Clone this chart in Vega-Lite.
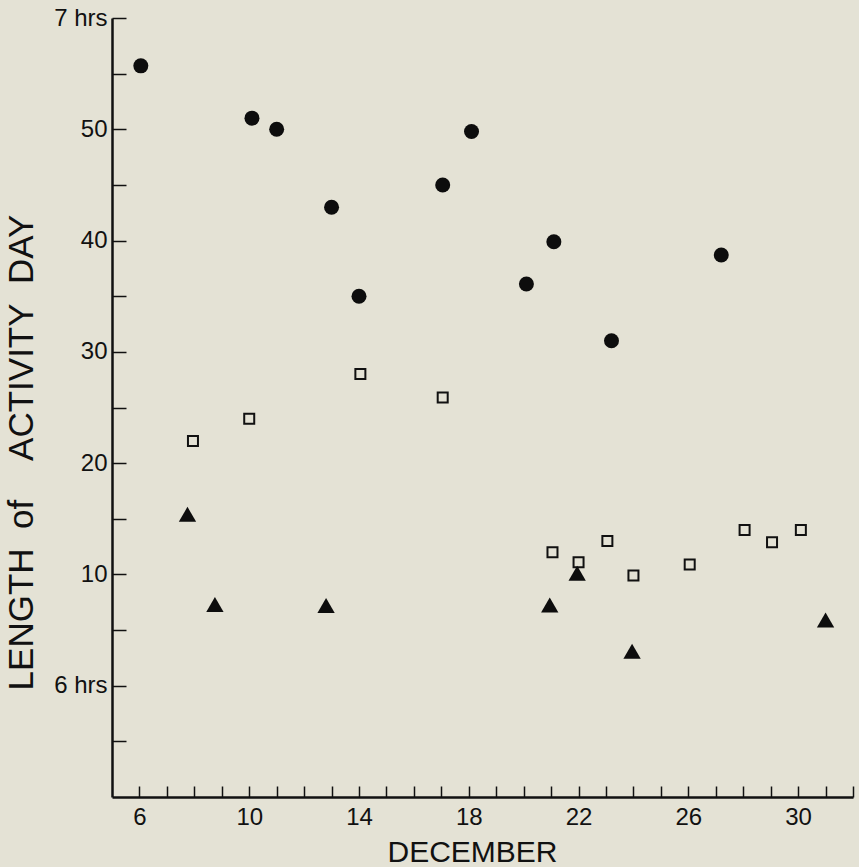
{
  "$schema": "https://vega.github.io/schema/vega-lite/v6.json",
  "width": 741,
  "height": 779,
  "autosize": {"type": "none"},
  "padding": {"left": 112, "top": 18, "right": 6, "bottom": 70},
  "background": "#e4e2d5",
  "config": {
    "view": {"stroke": null},
    "font": "Liberation Sans",
    "axis": {
      "domainColor": "#111111",
      "domainWidth": 2.5,
      "tickColor": "#111111",
      "tickWidth": 1.5,
      "labelColor": "#111111",
      "titleColor": "#111111",
      "labelFont": "Liberation Sans",
      "titleFont": "Liberation Sans",
      "titleFontWeight": "normal",
      "grid": false
    }
  },
  "data": {
    "values": [
      {"day": 6.05, "minutes": 55.7, "group": "circle"},
      {"day": 10.1, "minutes": 51.0, "group": "circle"},
      {"day": 11.0, "minutes": 50.0, "group": "circle"},
      {"day": 13.0, "minutes": 43.0, "group": "circle"},
      {"day": 14.0, "minutes": 35.0, "group": "circle"},
      {"day": 17.05, "minutes": 45.0, "group": "circle"},
      {"day": 18.1, "minutes": 49.8, "group": "circle"},
      {"day": 20.1, "minutes": 36.1, "group": "circle"},
      {"day": 21.1, "minutes": 39.9, "group": "circle"},
      {"day": 23.2, "minutes": 31.0, "group": "circle"},
      {"day": 27.2, "minutes": 38.7, "group": "circle"},
      {"day": 7.95, "minutes": 22.0, "group": "square"},
      {"day": 10.0, "minutes": 24.0, "group": "square"},
      {"day": 14.05, "minutes": 28.0, "group": "square"},
      {"day": 17.05, "minutes": 25.9, "group": "square"},
      {"day": 21.05, "minutes": 12.0, "group": "square"},
      {"day": 22.0, "minutes": 11.1, "group": "square"},
      {"day": 23.05, "minutes": 13.0, "group": "square"},
      {"day": 24.0, "minutes": 9.9, "group": "square"},
      {"day": 26.05, "minutes": 10.9, "group": "square"},
      {"day": 28.05, "minutes": 14.0, "group": "square"},
      {"day": 29.05, "minutes": 12.9, "group": "square"},
      {"day": 30.1, "minutes": 14.0, "group": "square"},
      {"day": 7.75, "minutes": 15.4, "group": "triangle"},
      {"day": 8.75, "minutes": 7.3, "group": "triangle"},
      {"day": 12.8, "minutes": 7.2, "group": "triangle"},
      {"day": 20.95, "minutes": 7.25, "group": "triangle"},
      {"day": 21.95, "minutes": 10.1, "group": "triangle"},
      {"day": 23.95, "minutes": 3.1, "group": "triangle"},
      {"day": 31.0, "minutes": 5.9, "group": "triangle"}
    ]
  },
  "encoding": {
    "x": {
      "field": "day",
      "type": "quantitative",
      "scale": {"domain": [5, 32], "nice": false, "zero": false},
      "axis": {
        "values": [6,7,8,9,10,11,12,13,14,15,16,17,18,19,20,21,22,23,24,25,26,27,28,29,30,31,32],
        "labelExpr": "datum.value % 4 == 2 ? datum.label : ''",
        "tickSize": -11,
        "labelPadding": 19,
        "labelFontSize": 24,
        "labelBaseline": "top",
        "labelFlush": false,
        "labelOverlap": false,
        "title": "DECEMBER",
        "titleFontSize": 30,
        "titleX": 360,
        "titleY": 64,
        "titleAlign": "center",
        "titleAnchor": "middle",
        "titleBaseline": "alphabetic"
      }
    },
    "y": {
      "field": "minutes",
      "type": "quantitative",
      "scale": {"domain": [-10, 60], "nice": false, "zero": false},
      "axis": {
        "values": [-5,0,5,10,15,20,25,30,35,40,45,50,55,60],
        "labelExpr": "datum.value == 60 ? '7 hrs' : datum.value == 0 ? '6 hrs' : (datum.value % 10 == 0 ? datum.label : '')",
        "tickSize": -14,
        "labelPadding": 19,
        "labelFontSize": 24,
        "labelFlush": false,
        "labelOverlap": false,
        "title": "LENGTH\u00a0\u00a0of\u00a0\u00a0\u00a0\u00a0ACTIVITY\u00a0\u00a0DAY",
        "titleFontSize": 35,
        "titleAngle": 270,
        "titleX": -80,
        "titleY": 434,
        "titleAlign": "center",
        "titleBaseline": "alphabetic"
      }
    }
  },
  "layer": [
    {
      "transform": [{"filter": "datum.group == 'circle'"}],
      "mark": {"type": "point", "shape": "circle", "filled": true, "size": 225, "color": "#0d0d0d", "opacity": 1}
    },
    {
      "transform": [{"filter": "datum.group == 'square'"}],
      "mark": {"type": "point", "shape": "square", "filled": false, "size": 100, "stroke": "#111111", "strokeWidth": 2, "opacity": 1}
    },
    {
      "transform": [{"filter": "datum.group == 'triangle'"}],
      "mark": {"type": "point", "shape": "triangle-up", "filled": true, "size": 300, "color": "#0d0d0d", "opacity": 1}
    }
  ]
}
